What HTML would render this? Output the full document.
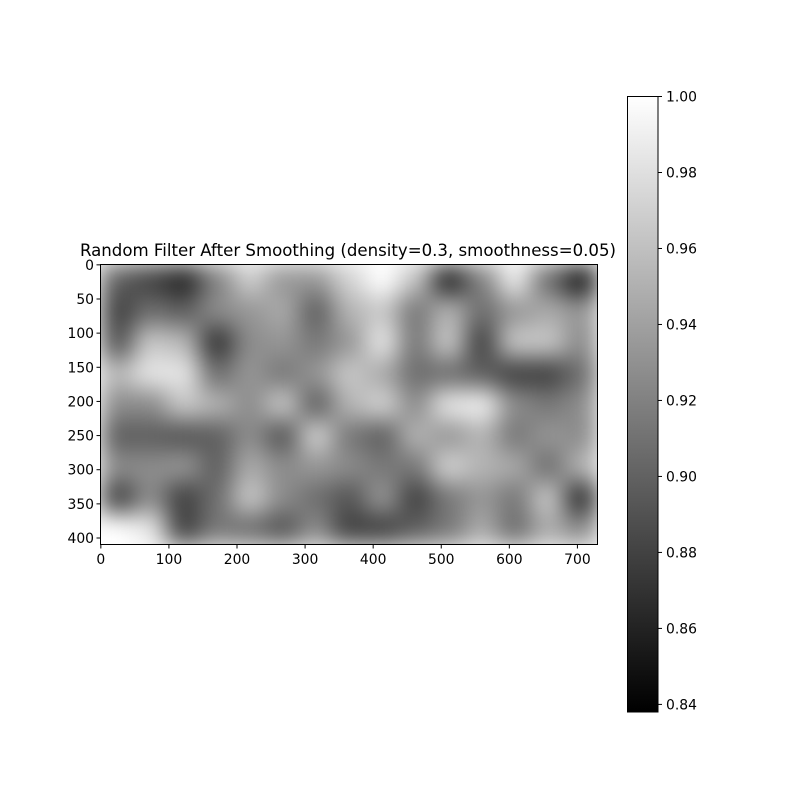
<!DOCTYPE html>
<html><head><meta charset="utf-8"><style>
body{margin:0;background:#fff;}
svg text{font-family:"DejaVu Sans","Liberation Sans",sans-serif;font-size:13.9px;fill:#000;}
</style></head><body>
<svg id="c" width="800" height="800" xmlns="http://www.w3.org/2000/svg">
<defs>
<filter id="blur" x="0" y="0" width="1" height="1" filterUnits="objectBoundingBox" color-interpolation-filters="sRGB">
<feGaussianBlur stdDeviation="12" edgeMode="duplicate"/>
</filter>
<clipPath id="pc"><rect x="100.5" y="264.5" width="497" height="280"/></clipPath>
<linearGradient id="cg" x1="0" y1="1" x2="0" y2="0"><stop offset="0" stop-color="#000"/><stop offset="1" stop-color="#fff"/></linearGradient>
</defs>
<text x="348" y="256" text-anchor="middle" style="font-size:16.6px">Random Filter After Smoothing (density=0.3, smoothness=0.05)</text>
<g clip-path="url(#pc)"><g id="cells" filter="url(#blur)"></g></g>
<rect x="100.5" y="264.5" width="497" height="280" fill="none" stroke="#000"/>
<g id="axes"></g>
<rect x="627.5" y="96.5" width="30.5" height="615.5" fill="url(#cg)" stroke="#000"/>
</svg>
<script>
const grays = [
[95,65,35,130,205,150,150,210,255,195,35,130,235,110,25],
[65,110,95,140,150,170,95,180,200,120,180,110,150,170,150],
[85,200,185,50,140,150,120,150,230,120,200,65,200,200,140],
[185,230,230,110,150,120,150,200,170,110,110,95,65,65,110],
[140,140,200,180,140,200,95,180,210,140,230,240,140,120,140],
[95,95,85,95,140,85,210,120,95,180,150,180,120,150,140],
[140,140,150,95,170,140,150,140,120,120,210,180,170,110,180],
[65,140,65,110,200,140,110,85,150,65,120,150,120,200,45],
[255,230,65,120,110,85,140,65,65,95,120,170,110,170,140]
];
const vmin = 0.838, vmax = 1.0;
const values = grays.map(r => r.map(g => vmin + g / 255 * (vmax - vmin)));
const xTicks = [0,100,200,300,400,500,600,700];
const yTicks = [0,50,100,150,200,250,300,350,400];
const cbTicks = [0.84,0.86,0.88,0.90,0.92,0.94,0.96,0.98,1.00];
const nx = 730, ny = 410;
const X0 = 100.5, Y0 = 264.5, W = 497, H = 280;
const sx = v => X0 + v / nx * W;
const sy = v => Y0 + v / ny * H;
const cbY = v => 96.5 + (vmax - v) / (vmax - vmin) * 615.5;
const ns = "http://www.w3.org/2000/svg";
const cells = document.getElementById('cells');
const rows = values.length, cols = values[0].length;
values.forEach((row, i) => row.forEach((v, j) => {
  const r = document.createElementNS(ns, 'rect');
  
  
  const x0 = sx(j * nx / cols), x1 = sx((j + 1) * nx / cols);
  const y0 = sy(i * ny / rows), y1 = sy((i + 1) * ny / rows);
  r.setAttribute('x', x0); r.setAttribute('y', y0);
  r.setAttribute('width', x1 - x0 + 0.5); r.setAttribute('height', y1 - y0 + 0.5);
  const g = Math.round(Math.max(0, Math.min(1, (v - vmin) / (vmax - vmin))) * 255);
  r.setAttribute('fill', `rgb(${g},${g},${g})`);
  cells.appendChild(r);
}));
const axes = document.getElementById('axes');
function line(x1,y1,x2,y2,name){
  const l = document.createElementNS(ns,'line');
  
  
  l.setAttribute('x1',x1);l.setAttribute('y1',y1);l.setAttribute('x2',x2);l.setAttribute('y2',y2);
  l.setAttribute('stroke','#000');
  axes.appendChild(l);
}
function text(x,y,s,anchor,name){
  const t = document.createElementNS(ns,'text');
  
  
  t.setAttribute('x',x);t.setAttribute('y',y);t.setAttribute('text-anchor',anchor);
  t.textContent = s; axes.appendChild(t);
}
xTicks.forEach(v => { const x = sx(v + 0.5); line(x,544.5,x,548.5,'x-tick'); text(x,564,String(v),'middle','x-tick-label'); });
yTicks.forEach(v => { const y = sy(v + 0.5); line(96.5,y,100.5,y,'y-tick'); text(94,y+5,String(v),'end','y-tick-label'); });
cbTicks.forEach(v => { const y = cbY(v); line(658,y,662,y,'colorbar-tick'); text(666,y+5,v.toFixed(2),'start','colorbar-tick-label'); });
</script>
</body></html>
